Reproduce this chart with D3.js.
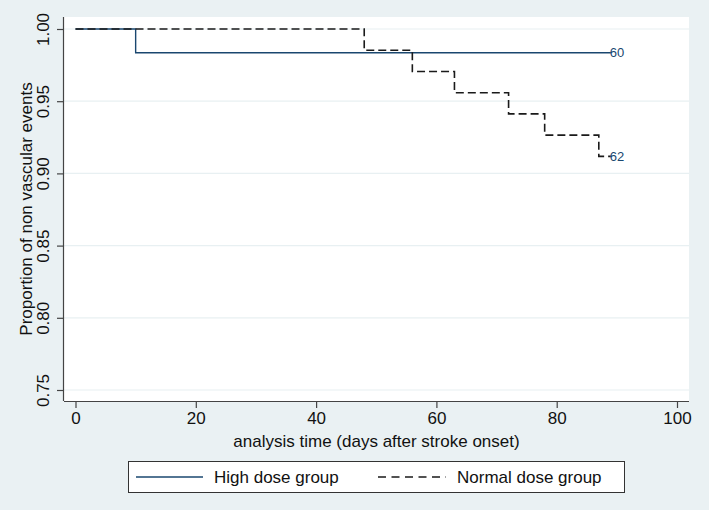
<!DOCTYPE html>
<html>
<head>
<meta charset="utf-8">
<script src="https://cdn.jsdelivr.net/npm/d3@7"></script>
<style>
  body { margin: 0; background: #eaf1f3; }
  svg { display: block; font-family: "Liberation Sans", Arial, Helvetica, sans-serif; }
</style>
</head>
<body>
<div id="chart"></div>
<script>
// Kaplan-Meier step data
const highTime = [0, 10, 89];
const highSurv = [1.0, 0.9836, 0.9836];
const normalTime = [0, 48, 56, 63, 72, 78, 87, 89];
const normalSurv = [1.0, 0.9853, 0.9706, 0.9559, 0.9412, 0.9265, 0.9118, 0.9118];
const atRisk = ["60", "62"];
const seriesNames = ["High dose group", "Normal dose group"];
const xTicks = [0, 20, 40, 60, 80, 100];
const yTicks = [0.75, 0.80, 0.85, 0.90, 0.95, 1.00];

const width = 709, height = 510;
const plot = { left: 64, right: 689, top: 17, bottom: 401 };

const svg = d3.select("#chart").append("svg")
  .attr("width", width)
  .attr("height", height);

svg.append("rect")
  .attr("width", width).attr("height", height)
  .attr("fill", "#eaf1f3");

svg.append("rect")
  .attr("x", plot.left).attr("y", plot.top)
  .attr("width", plot.right - plot.left)
  .attr("height", plot.bottom - plot.top)
  .attr("fill", "#fff");

const x = d3.scaleLinear().domain([0, 100]).range([75.5, 677]);
const y = d3.scaleLinear().domain([0.75, 1.0]).range([390, 29]);

// gridlines
svg.append("g")
  .selectAll("line")
  .data(yTicks)
  .join("line")
  .attr("x1", plot.left).attr("x2", plot.right)
  .attr("y1", d => y(d)).attr("y2", d => y(d))
  .attr("stroke", "#e8f0f2")
  .attr("stroke-width", 1.2);

// axes
const xAxis = svg.append("g")
  .attr("transform", `translate(0,${plot.bottom})`)
  .call(d3.axisBottom(x).tickValues(xTicks).tickSize(7).tickPadding(4).tickSizeOuter(0));
xAxis.select(".domain").attr("d", `M${plot.left},0.5H${plot.right}`);
xAxis.selectAll("text").attr("font-size", 17).attr("fill", "#111").attr("font-family", null);

const yAxis = svg.append("g")
  .attr("transform", `translate(${plot.left},0)`)
  .call(d3.axisLeft(y).tickValues(yTicks).tickFormat(d3.format(".2f")).tickSize(7).tickSizeOuter(0));
yAxis.select(".domain").attr("d", `M-0.5,${plot.top}V${plot.bottom}`);
yAxis.selectAll(".tick text")
  .attr("font-size", 17).attr("fill", "#111").attr("font-family", null)
  .attr("x", null).attr("dy", null)
  .attr("text-anchor", "middle")
  .attr("transform", "translate(-15,0) rotate(-90)");

[xAxis, yAxis].forEach(a => {
  a.selectAll(".domain").attr("stroke", "#444").attr("stroke-width", 1.2);
  a.selectAll(".tick line").attr("stroke", "#444").attr("stroke-width", 1.2);
});

// axis titles
svg.append("text")
  .attr("x", (plot.left + plot.right) / 2)
  .attr("y", 447)
  .attr("text-anchor", "middle")
  .attr("font-size", 17)
  .attr("fill", "#111")
  .text("analysis time (days after stroke onset)");

svg.append("text")
  .attr("transform", `translate(32,${(plot.top + plot.bottom) / 2}) rotate(-90)`)
  .attr("text-anchor", "middle")
  .attr("font-size", 17)
  .attr("fill", "#111")
  .text("Proportion of non vascular events");

// curves
const line = d3.line()
  .x(d => x(d[0]))
  .y(d => y(d[1]))
  .curve(d3.curveStepAfter);

const highPts = highTime.map((t, i) => [t, highSurv[i]]);
const normalPts = normalTime.map((t, i) => [t, normalSurv[i]]);

svg.append("path")
  .datum(highPts)
  .attr("d", line)
  .attr("fill", "none")
  .attr("stroke", "#1a476f")
  .attr("stroke-width", 1.4);

svg.append("path")
  .datum(normalPts)
  .attr("d", line)
  .attr("fill", "none")
  .attr("stroke", "#1a1a1a")
  .attr("stroke-width", 1.6)
  .attr("stroke-dasharray", "8,4");

// at-risk labels at curve ends
[highPts, normalPts].forEach((pts, i) => {
  const last = pts[pts.length - 1];
  svg.append("text")
    .attr("x", x(last[0]) - 1)
    .attr("y", y(last[1]) + 4.5)
    .attr("font-size", 13)
    .attr("fill", "#1a476f")
    .text(atRisk[i]);
});

// legend
const legend = svg.append("g");
legend.append("rect")
  .attr("x", 128.5).attr("y", 461.5)
  .attr("width", 496).attr("height", 31)
  .attr("fill", "#fff")
  .attr("stroke", "#333")
  .attr("stroke-width", 1);

const legendItems = [
  { x1: 136, x2: 203, text: 214, color: "#1a476f", dash: null },
  { x1: 378, x2: 446, text: 457, color: "#1a1a1a", dash: "8,5.5" }
];
legendItems.forEach((d, i) => {
  legend.append("line")
    .attr("x1", d.x1).attr("x2", d.x2)
    .attr("y1", 477).attr("y2", 477)
    .attr("stroke", d.color)
    .attr("stroke-width", 1.4)
    .attr("stroke-dasharray", d.dash);
  legend.append("text")
    .attr("x", d.text).attr("y", 483)
    .attr("font-size", 17)
    .attr("fill", "#111")
    .text(seriesNames[i]);
});
</script>
</body>
</html>
